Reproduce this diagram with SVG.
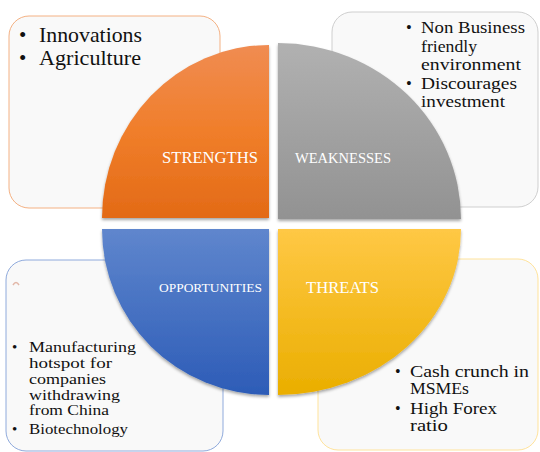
<svg xmlns="http://www.w3.org/2000/svg" width="540" height="452" viewBox="0 0 540 452">
<defs>
<linearGradient id="gO" x1="0" y1="0" x2="0" y2="1"><stop offset="0" stop-color="#F08C52"/><stop offset="0.5" stop-color="#F07E2A"/><stop offset="1" stop-color="#E36A16"/></linearGradient>
<linearGradient id="gG" x1="0" y1="0" x2="0" y2="1"><stop offset="0" stop-color="#B1B1B1"/><stop offset="1" stop-color="#929292"/></linearGradient>
<linearGradient id="gB" x1="0" y1="0" x2="0" y2="1"><stop offset="0" stop-color="#5F86CD"/><stop offset="1" stop-color="#2D5CB7"/></linearGradient>
<linearGradient id="gY" x1="0" y1="0" x2="0" y2="1"><stop offset="0" stop-color="#FFC845"/><stop offset="1" stop-color="#EAAE00"/></linearGradient>
<filter id="sh" x="-10%" y="-10%" width="120%" height="120%"><feDropShadow dx="0" dy="2" stdDeviation="1.8" flood-color="#000" flood-opacity="0.35"/></filter>
</defs>
<style>
.box{fill:#F9F9F9;stroke-width:1}
.t{font-family:"Liberation Serif","Times New Roman",serif;fill:#111}
.lbl{font-family:"Liberation Serif","Times New Roman",serif;fill:#FFFFFF}
</style>
<rect width="540" height="452" fill="#FFFFFF"/>
<g id="box-strengths">
<rect class="box" x="9" y="16" width="211" height="192" rx="20" stroke="#F4B183"/>
<g class="t" font-size="21">
<text x="19" y="42">•</text><text x="39" y="42" textLength="103" lengthAdjust="spacingAndGlyphs">Innovations</text>
<text x="19" y="65">•</text><text x="39" y="65" textLength="102" lengthAdjust="spacingAndGlyphs">Agriculture</text>
</g>
</g>
<g id="box-weaknesses">
<rect class="box" x="332" y="12" width="206" height="195" rx="20" stroke="#CFCFCF"/>
<g class="t" font-size="16.5">
<text x="406" y="33">•</text><text x="421" y="33" textLength="104" lengthAdjust="spacingAndGlyphs">Non Business</text>
<text x="421" y="52" textLength="56" lengthAdjust="spacingAndGlyphs">friendly</text>
<text x="421" y="70" textLength="100" lengthAdjust="spacingAndGlyphs">environment</text>
<text x="406" y="89">•</text><text x="421" y="89" textLength="96" lengthAdjust="spacingAndGlyphs">Discourages</text>
<text x="421" y="107" textLength="84" lengthAdjust="spacingAndGlyphs">investment</text>
</g>
</g>
<g id="box-opportunities">
<rect class="box" x="6" y="260" width="217" height="191" rx="20" stroke="#8FAADC"/>
<path d="M13,285 Q16,280 19,285" fill="none" stroke="#E2B7A8" stroke-width="1.5"/>
<g class="t" font-size="15">
<text x="12" y="352">•</text><text x="29" y="352" textLength="107" lengthAdjust="spacingAndGlyphs">Manufacturing</text>
<text x="29" y="368" textLength="83" lengthAdjust="spacingAndGlyphs">hotspot for</text>
<text x="29" y="384" textLength="77" lengthAdjust="spacingAndGlyphs">companies</text>
<text x="29" y="400" textLength="91" lengthAdjust="spacingAndGlyphs">withdrawing</text>
<text x="29" y="415" textLength="80" lengthAdjust="spacingAndGlyphs">from China</text>
<text x="12" y="434">•</text><text x="29" y="434" textLength="99" lengthAdjust="spacingAndGlyphs">Biotechnology</text>
</g>
</g>
<g id="box-threats">
<rect class="box" x="318" y="259" width="220" height="191" rx="20" stroke="#FFE39B"/>
<g class="t" font-size="16">
<text x="395" y="377">•</text><text x="410" y="377" textLength="119" lengthAdjust="spacingAndGlyphs">Cash crunch in</text>
<text x="410" y="394" textLength="59" lengthAdjust="spacingAndGlyphs">MSMEs</text>
<text x="395" y="414">•</text><text x="410" y="414" textLength="87" lengthAdjust="spacingAndGlyphs">High Forex</text>
<text x="410" y="431" textLength="38" lengthAdjust="spacingAndGlyphs">ratio</text>
</g>
</g>
<g id="strengths">
<path d="M269,218 L102,218 A167,173 0 0 1 269,45 Z" fill="url(#gO)" filter="url(#sh)"/>
<text class="lbl" x="162" y="163" font-size="16" textLength="96" lengthAdjust="spacingAndGlyphs">STRENGTHS</text>
</g>
<g id="weaknesses">
<path d="M278,219 L278,43 A183,176 0 0 1 461,219 Z" fill="url(#gG)" filter="url(#sh)"/>
<text class="lbl" x="295" y="163" font-size="14.5" textLength="96" lengthAdjust="spacingAndGlyphs">WEAKNESSES</text>
</g>
<g id="opportunities">
<path d="M102,229 L269,229 L269,395 A167,166 0 0 1 102,229 Z" fill="url(#gB)" filter="url(#sh)"/>
<text class="lbl" x="159" y="292" font-size="13" textLength="103" lengthAdjust="spacingAndGlyphs">OPPORTUNITIES</text>
</g>
<g id="threats">
<path d="M278,229 L461,229 A183,166 0 0 1 278,395 Z" fill="url(#gY)" filter="url(#sh)"/>
<text class="lbl" x="306" y="293" font-size="16.5" textLength="73" lengthAdjust="spacingAndGlyphs">THREATS</text>
</g>
</svg>
